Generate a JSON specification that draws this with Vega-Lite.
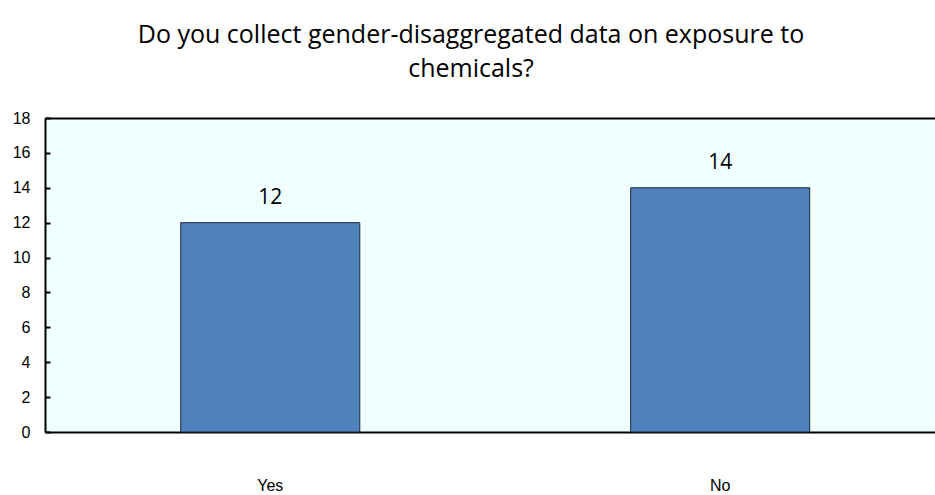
{
  "$schema": "https://vega.github.io/schema/vega-lite/v6.json",
  "autosize": "none",
  "width": 890,
  "height": 314,
  "padding": {"left": 45, "top": 118, "right": 0, "bottom": 63},
  "background": "white",
  "title": {
    "text": ["Do you collect gender-disaggregated data on exposure to", "chemicals?"],
    "font": "Open Sans",
    "fontSize": 25,
    "fontWeight": "normal",
    "color": "#000000",
    "lineHeight": 34,
    "anchor": "middle",
    "dx": -19,
    "offset": 28
  },
  "config": {
    "view": {"fill": "#f0ffff", "stroke": null}
  },
  "data": {"values": [
    {"answer": "Yes", "count": 12},
    {"answer": "No", "count": 14}
  ]},
  "encoding": {
    "x": {
      "field": "answer", "type": "nominal", "sort": ["Yes", "No"],
      "scale": {"paddingInner": 0.602, "paddingOuter": 0.29, "align": 0.52}
    },
    "y": {
      "field": "count", "type": "quantitative",
      "scale": {"domain": [0, 18]},
      "axis": {
        "title": null, "values": [0, 2, 4, 6, 8, 10, 12, 14, 16, 18],
        "domainColor": "#000000", "domainWidth": 2,
        "tickSize": -5, "tickColor": "#000000", "tickWidth": 2, "labelPadding": 20,
        "grid": true, "gridColor": "#ffffff", "gridWidth": 1,
        "labelFont": "Liberation Sans", "labelFontSize": 16, "labelColor": "#000000"
      }
    }
  },
  "layer": [
    {
      "mark": {"type": "bar", "color": "#4f81bd", "stroke": "#1c2a3a", "strokeWidth": 1},
      "encoding": {
        "x": {
          "field": "answer", "type": "nominal", "sort": ["Yes", "No"],
          "axis": {
            "title": null, "labelAngle": 0, "domain": true, "domainColor": "#000000", "domainWidth": 2,
            "ticks": false, "labelPadding": 45, "labelDx": 18, "labelFont": "Liberation Sans", "labelFontSize": 16, "labelColor": "#000000"
          }
        }
      }
    },
    {
      "mark": {"type": "text", "dy": -25, "font": "Open Sans", "fontSize": 21, "color": "#000000"},
      "encoding": {
        "x": {
          "field": "answer", "type": "nominal", "sort": ["Yes", "No"],
          "axis": {"orient": "top", "title": null, "labels": false, "ticks": false, "grid": false, "domain": true, "domainColor": "#000000", "domainWidth": 2}
        },
        "text": {"field": "count", "type": "quantitative"}
      }
    }
  ],
  "resolve": {"axis": {"x": "independent"}}
}
